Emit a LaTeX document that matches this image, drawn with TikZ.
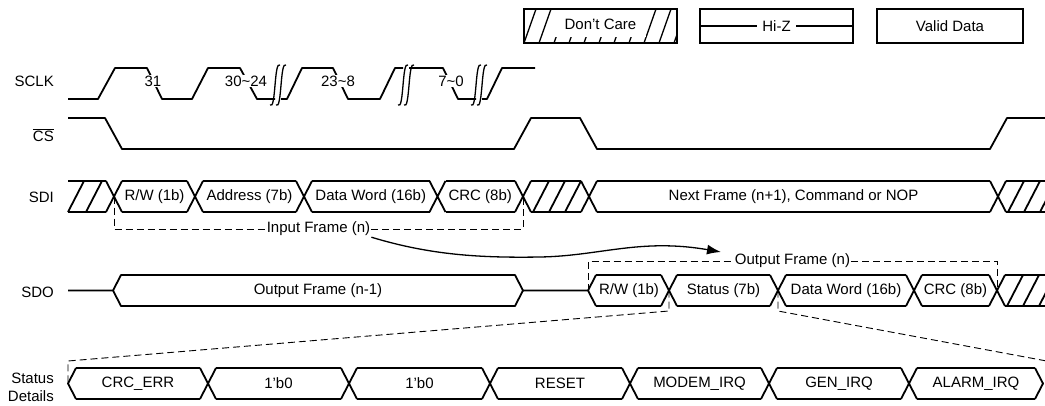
\documentclass[tikz,border=0pt]{standalone}
\usepackage{fontspec}
\setmainfont{Liberation Sans}
\usetikzlibrary{arrows.meta}
\newcommand\trX[3]{\draw[wave] (#1-8,#2)--(#1+8,#3) (#1-8,#3)--(#1+8,#2);}
\newcommand\busline[4]{\draw[wave] (#1+8,#3)--(#2-8,#3) (#1+8,#4)--(#2-8,#4);}
\newcommand\brkmark[1]{\draw[brk] (#1-5,105) .. controls (#1+1,111) and (#1-1,60) .. (#1+5,65);}
\begin{document}
\begin{tikzpicture}[x=1pt,y=-1pt,
  wave/.style={line width=1.8pt,line join=round},
  thinw/.style={line width=1.3pt},
  dsh/.style={line width=0.9pt,dash pattern=on 7pt off 4pt},
  txt/.style={font=\fontsize{15}{18}\selectfont, inner sep=1pt},
  wtxt/.style={txt, fill=white},
  lab/.style={font=\fontsize{15}{18}\selectfont, inner sep=0pt, anchor=east, align=right},
  brk/.style={line width=1.3pt}]
\useasboundingbox (0,0) rectangle (1045,405);
\clip (0,0) rectangle (1045,405);

% ---------- legend ----------
\begin{scope}
  \clip (524,9) rectangle (677,43);
  \foreach \s in {524,539,...,674} \draw[thinw] (\s,43)--(\s+12,9);
\end{scope}
\fill[white] (555,9.8) rectangle (646,37);
\draw[thinw] (524,9) rectangle (677,43);
\node[txt] (lgdc) at (600.5,24) {Don’t Care};

\draw[thinw] (700,9) rectangle (853,43);
\draw[thinw] (700,26)--(853,26);
\node[wtxt, inner xsep=5pt] (lghz) at (776.5,26) {Hi-Z};

\draw[thinw] (877,9) rectangle (1023,43);
\node[txt] (lgvd) at (950,26) {Valid Data};

% ---------- row labels ----------
\node[lab] (lsclk) at (54,81) {SCLK};
\node[lab] (lcs) at (54,135) {$\overline{\mbox{CS}}$};
\node[lab] (lsdi) at (54,197) {SDI};
\node[lab] (lsdo) at (54,292) {SDO};
\node[lab] (lstat) at (54,387) {Status\\Details};

% ---------- SCLK ----------
\draw[wave] (68,99)--(98,99)--(115,68)--(147,68)--(162,99)--(192,99)--(208,68)--(240,68)--(257,99)--(275,99);
\brkmark{275}\brkmark{281}
\draw[wave] (281,99)--(287,99)--(302,68)--(333,68)--(348,99)--(380,99)--(395,68)--(403,68);
\brkmark{403}\brkmark{409}
\draw[wave] (409,68)--(443,68)--(458,99)--(476,99);
\brkmark{476}\brkmark{482}
\draw[wave] (482,99)--(487,99)--(502,68)--(535,68);
\node[wtxt] (c31) at (153,81) {31};
\node[wtxt] (c30) at (246,81) {30\textasciitilde 24};
\node[wtxt] (c23) at (338,81) {23\textasciitilde 8};
\node[wtxt] (c7) at (451,81) {7\textasciitilde 0};

% ---------- CS ----------
\draw[wave] (68,118)--(105,118)--(122,149)--(514,149)--(531,118)--(580,118)--(597,149)--(990,149)--(1007,118)--(1045,118);

% ---------- SDI ----------
\draw[wave] (68,181)--(106,181) (68,212)--(106,212) (68,212)--(84,181) (86,212)--(102,181);
\trX{114}{181}{212}
\busline{114}{195}{181}{212}
\trX{195}{181}{212}
\busline{195}{304}{181}{212}
\trX{304}{181}{212}
\busline{304}{437.5}{181}{212}
\trX{437.5}{181}{212}
\busline{437.5}{523}{181}{212}
\trX{523}{181}{212}
\busline{523}{589}{181}{212}
\foreach \s in {533,549,565} \draw[wave] (\s,212)--(\s+16,181);
\trX{589}{181}{212}
\busline{589}{998}{181}{212}
\trX{998}{181}{212}
\draw[wave] (1006,181)--(1045,181) (1006,212)--(1045,212);
\foreach \s in {1008,1024,1040} \draw[wave] (\s,212)--(\s+16,181);
\node[txt] (sdi1) at (154.5,196.5) {R/W (1b)};
\node[txt] (sdi2) at (249.5,196.5) {Address (7b)};
\node[txt] (sdi3) at (370.75,196.5) {Data Word (16b)};
\node[txt] (sdi4) at (480.25,196.5) {CRC (8b)};
\node[txt] (sdi5) at (793.5,196.5) {Next Frame (n+1), Command or NOP};

% input frame bracket
\node[wtxt] (inframe) at (318.5,229) {Input Frame (n)};
\draw[dsh] (114,196.5) |- (inframe.west);
\draw[dsh] (inframe.east) -| (523,196.5);

% curved arrow
\coordinate (arrowend) at (721,252);
\draw[line width=1.3pt,-{Latex[length=14pt,width=10pt]}] (inframe.south east) .. controls (430,255) and (480,258) .. (540,257) .. controls (600,256) and (640,238) .. (arrowend);

% ---------- SDO ----------
\draw[wave] (68,290.5)--(113,290.5)--(121,275)--(515,275)--(523,290.5)--(515,306)--(121,306)--(113,290.5);
\draw[wave] (523,290.5)--(588,290.5)--(596,275) (588,290.5)--(596,306);
\busline{588}{669}{275}{306}
\trX{669}{275}{306}
\busline{669}{778}{275}{306}
\trX{778}{275}{306}
\busline{778}{914}{275}{306}
\trX{914}{275}{306}
\busline{914}{997}{275}{306}
\trX{997}{275}{306}
\draw[wave] (1005,275)--(1045,275) (1005,306)--(1045,306);
\foreach \s in {1007,1023,1039} \draw[wave] (\s,306)--(\s+16,275);
\node[txt] (sdo0) at (318,290.5) {Output Frame (n-1)};
\node[txt] (sdo1) at (629,290.5) {R/W (1b)};
\node[txt] (sdo2) at (723.5,290.5) {Status (7b)};
\node[txt] (sdo3) at (846,290.5) {Data Word (16b)};
\node[txt] (sdo4) at (955.5,290.5) {CRC (8b)};

% output frame bracket
\node[wtxt] (outframe) at (792.5,261) {Output Frame (n)};
\draw[dsh] (588,290.5) |- (outframe.west);
\draw[dsh] (outframe.east) -| (997,290.5);

% zoom lines
\coordinate (zl) at (68,361);
\coordinate (zr) at (1052,362);
\draw[dsh] (669,290.5)--(669,311)--(zl)--(68,383.5);
\draw[dsh] (778,290.5)--(778,311)--(zr);

% ---------- Status details ----------
\draw[wave] (76,368)--(68,383.5)--(76,399);
\busline{68}{208}{368}{399}
\trX{208}{368}{399}
\busline{208}{349}{368}{399}
\trX{349}{368}{399}
\busline{349}{490}{368}{399}
\trX{490}{368}{399}
\busline{490}{630}{368}{399}
\trX{630}{368}{399}
\busline{630}{769}{368}{399}
\trX{769}{368}{399}
\busline{769}{909}{368}{399}
\trX{909}{368}{399}
\busline{909}{1043}{368}{399}
\draw[wave] (1035,368)--(1043,383.5)--(1035,399);
\node[txt] (st1) at (138,383.5) {CRC\_ERR};
\node[txt] (st2) at (278.5,383.5) {1'b0};
\node[txt] (st3) at (419.5,383.5) {1'b0};
\node[txt] (st4) at (560,383.5) {RESET};
\node[txt] (st5) at (699.5,383.5) {MODEM\_IRQ};
\node[txt] (st6) at (839,383.5) {GEN\_IRQ};
\node[txt] (st7) at (976,383.5) {ALARM\_IRQ};
\end{tikzpicture}
\end{document}
